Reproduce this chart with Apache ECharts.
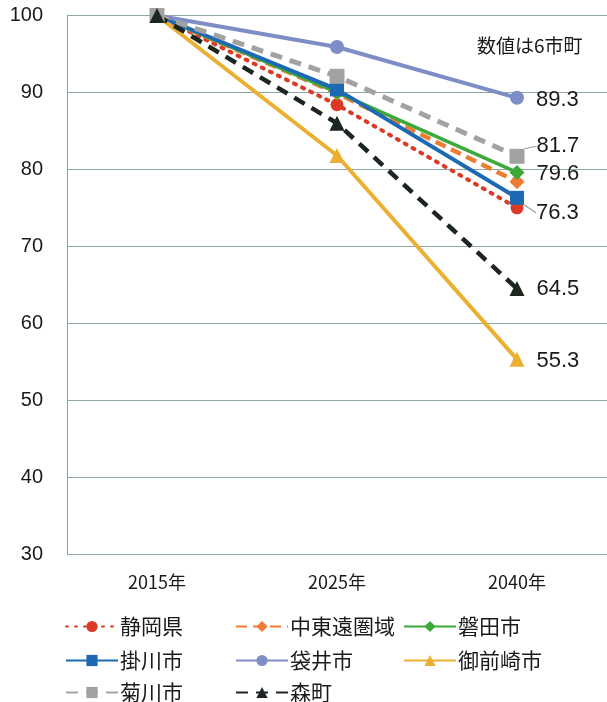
<!DOCTYPE html>
<html>
<head>
<meta charset="utf-8">
<script src="https://cdn.jsdelivr.net/npm/echarts@6/dist/echarts.min.js"></script>
<style>
  html, body { margin: 0; padding: 0; background: #fff; }
  #chart { width: 607px; height: 702px; }
</style>
</head>
<body>
<div id="chart"></div>
<script>
// Population index (2015 = 100)
const years = ['2015年', '2025年', '2040年'];
const yTicks = [30, 40, 50, 60, 70, 80, 90, 100];

const shizuokaKen = [100, 88.4, 75.0];
const chutoen     = [100, 89.9, 78.4];
const iwata       = [100, 90.0, 79.6];
const kakegawa    = [100, 90.4, 76.3];
const fukuroi     = [100, 95.9, 89.3];
const omaezaki    = [100, 81.8, 55.3];
const kikugawa    = [100, 92.1, 81.7];
const morimachi   = [100, 86.0, 64.5];

const FONT = '"Liberation Sans", "Noto Sans CJK JP", sans-serif';
const JP = '"Noto Sans CJK JP", sans-serif';

// per-series styling; the six municipalities get an end label
const defs = [
  { name: '静岡県',   data: shizuokaKen, color: '#DB3A26', symbol: 'circle',   dash: [2, 7],  width: 4,   cap: 'round', size: 13 },
  { name: '中東遠圏域', data: chutoen,   color: '#EE7D33', symbol: 'diamond',  dash: [11, 6], width: 4.5, size: 15 },
  { name: '磐田市',   data: iwata,       color: '#3DA93A', symbol: 'diamond',  dash: 'solid', width: 3.5, size: 15, label: true, dy: 2 },
  { name: '掛川市',   data: kakegawa,    color: '#1E69B3', symbol: 'rect',     dash: 'solid', width: 4,   size: 14, label: true, dy: 15, line: true },
  { name: '袋井市',   data: fukuroi,     color: '#7F8DC6', symbol: 'circle',   dash: 'solid', width: 4,   size: 14, label: true, dy: 2 },
  { name: '御前崎市', data: omaezaki,    color: '#EBB031', symbol: 'triangle', dash: 'solid', width: 4,   size: 15, label: true, dy: 2 },
  { name: '菊川市',   data: kikugawa,    color: '#A2A2A2', symbol: 'rect',     dash: [12, 8], width: 5,   size: 15, label: true, dy: -10, line: true },
  { name: '森町',     data: morimachi,   color: '#1C261E', symbol: 'triangle', dash: [12, 8], width: 4.5, size: 15, label: true, dy: 0 }
];

const series = defs.map(d => ({
  name: d.name,
  type: 'line',
  data: d.data.map((v, i) => {
    const item = { value: v };
    if (d.label && i === d.data.length - 1) {
      item.label = {
        show: true,
        position: 'right',
        distance: 12,
        formatter: p => p.value.toFixed(1),
        fontSize: 22,
        color: '#1a1a1a',
        fontFamily: FONT
      };
      if (d.line) {
        item.labelLine = { show: true, length2: 0, lineStyle: { color: '#999', width: 1.2 } };
      }
    }
    return item;
  }),
  symbol: d.symbol,
  symbolSize: d.size,
  showAllSymbol: true,
  animation: false,
  lineStyle: { color: d.color, width: d.width, type: d.dash, cap: d.cap || 'butt' },
  itemStyle: { color: d.color },
  labelLayout: d.label ? { dy: d.dy || 0 } : undefined,
  z: 2
}));

// legend grid: 3 columns x 3 rows
const colX = [60, 230, 398];
const rowY = [611, 645, 677];
const legends = defs.map((d, i) => ({
  data: [d.name],
  left: colX[i % 3],
  top: rowY[Math.floor(i / 3)],
  itemWidth: 52,
  itemHeight: 14,
  itemGap: 4,
  textStyle: { fontSize: 21, color: '#1a1a1a', fontFamily: JP, padding: [0, 0, 0, -3] },
  selectedMode: false
}));

const chart = echarts.init(document.getElementById('chart'), null, { renderer: 'canvas' });
chart.setOption({
  backgroundColor: '#ffffff',
  animation: false,
  grid: { left: 67, right: 0, top: 15.5, bottom: 148 },
  xAxis: {
    type: 'category',
    data: years,
    boundaryGap: true,
    axisLine: { show: false },
    axisTick: { show: false },
    axisLabel: { fontSize: 18, color: '#1a1a1a', fontFamily: JP, margin: 19 }
  },
  yAxis: {
    type: 'value',
    min: yTicks[0],
    max: yTicks[yTicks.length - 1],
    interval: 10,
    axisLine: { show: true, lineStyle: { color: '#9a9a9a', width: 1 } },
    axisTick: { show: false },
    axisLabel: { fontSize: 20, color: '#1a1a1a', fontFamily: FONT, margin: 24 },
    splitLine: { show: true, lineStyle: { color: '#8FA8A6', width: 1 } }
  },
  legend: legends,
  graphic: [{
    type: 'text',
    left: 477,
    top: 36,
    style: { text: '数値は6市町', fontSize: 19, fill: '#1a1a1a', fontFamily: JP }
  }],
  series: series
});
</script>
</body>
</html>
